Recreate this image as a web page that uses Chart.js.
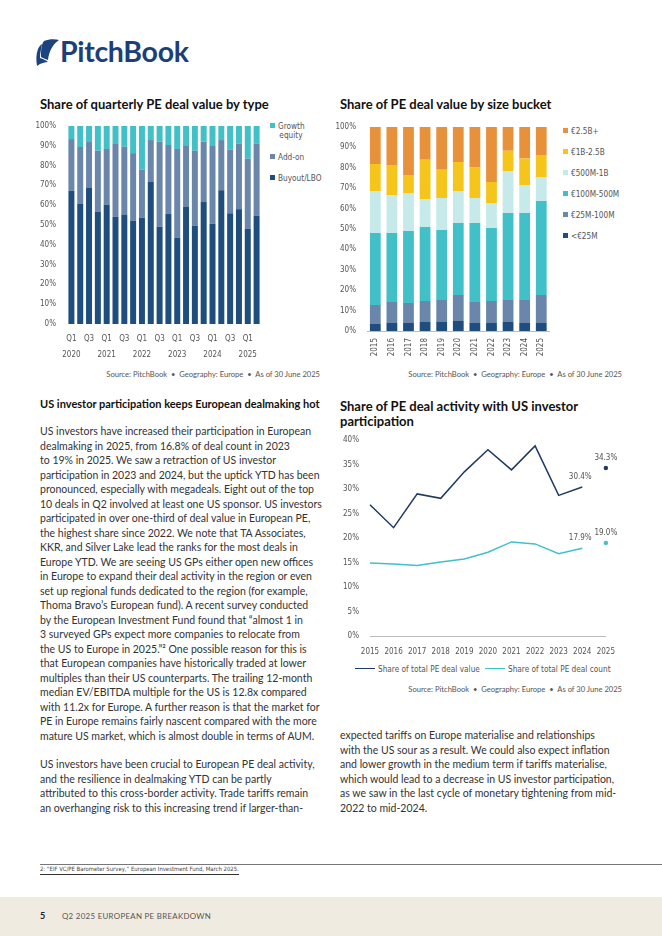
<!DOCTYPE html>
<html>
<head>
<meta charset="utf-8">
<script src="https://cdn.jsdelivr.net/npm/chart.js@4.4.1/dist/chart.umd.min.js"></script>
<style>
  body { margin: 0; width: 662px; height: 936px; position: relative; overflow: hidden; background: #fff; font-family: Lato, 'Open Sans', sans-serif; color: #333; }
  .abs { position: absolute; }
  .title { font-weight: 700; font-size: 13px; color: #111; white-space: nowrap; line-height: 14.5px; }
  .src { font-size: 7.6px; color: #555; white-space: nowrap; text-align: right; width: 260px; }
  .body { font-size: 10.5px; line-height: 14.5px; white-space: nowrap; color: #333; }
  .legend { font-family: 'Liberation Sans Narrow', 'DejaVu Sans Condensed', sans-serif; font-size: 8.2px; color: #555; }
  .legend div { position: absolute; white-space: nowrap; line-height: 9px; }
  .legend i { display: inline-block; width: 5px; height: 5px; margin-right: 3px; vertical-align: 1px; }
  canvas { position: absolute; }
</style>
</head>
<body>

<!-- logo -->
<svg class="abs" style="left:35px;top:39px" width="26" height="28" viewBox="0 0 26 28">
  <path d="M9 2 C 14 0, 20 0, 24 1 C 18 5, 14 12, 13 21 C 10 20, 8 19, 6 18 C 6 12, 6 6, 9 2 Z" fill="#1d4280"/>
  <path d="M3 10 C 4 8, 5 6, 7 5 C 6 10, 5 15, 5 19 C 8 20, 11 21, 13 23 C 10 23, 6 24, 2 27 C 1 21, 1 15, 3 10 Z" fill="#1d4280"/>
</svg>
<div class="abs" style="left:60px;top:34px;font-size:28.5px;font-weight:700;color:#1d3f78;letter-spacing:-0.3px">PitchBook</div>

<!-- chart 1 -->
<div class="abs title" style="left:40px;top:97px">Share of quarterly PE deal value by type</div>
<canvas id="typeChart" style="left:36px;top:116px" width="230" height="250"></canvas>
<div id="typeLegend" class="abs legend" style="left:270px;top:122px"></div>
<div class="abs src" style="left:60px;top:369px">Source: PitchBook &nbsp;•&nbsp; Geography: Europe &nbsp;•&nbsp; As of 30 June 2025</div>

<!-- chart 2 -->
<div class="abs title" style="left:340px;top:97px">Share of PE deal value by size bucket</div>
<canvas id="sizeChart" style="left:336px;top:116px" width="222" height="248"></canvas>
<div id="sizeLegend" class="abs legend" style="left:563px;top:127px"></div>
<div class="abs src" style="left:362px;top:369px">Source: PitchBook &nbsp;•&nbsp; Geography: Europe &nbsp;•&nbsp; As of 30 June 2025</div>

<!-- chart 3 -->
<div class="abs title" style="left:340px;top:399px">Share of PE deal activity with US investor<br>participation</div>
<canvas id="usChart" style="left:336px;top:432px" width="290" height="228"></canvas>
<div id="usLegend" class="abs legend" style="left:355px;top:665px"></div>
<div class="abs src" style="left:362px;top:684px">Source: PitchBook &nbsp;•&nbsp; Geography: Europe &nbsp;•&nbsp; As of 30 June 2025</div>

<!-- text -->
<div class="abs body" style="left:40px;top:397px;font-weight:700;color:#111;font-size:11px">US investor participation keeps European dealmaking hot</div>
<div class="abs body" style="left:40px;top:424px">
US investors have increased their participation in European<br>
dealmaking in 2025, from 16.8% of deal count in 2023<br>
to 19% in 2025. We saw a retraction of US investor<br>
participation in 2023 and 2024, but the uptick YTD has been<br>
pronounced, especially with megadeals. Eight out of the top<br>
10 deals in Q2 involved at least one US sponsor. US investors<br>
participated in over one-third of deal value in European PE,<br>
the highest share since 2022. We note that TA Associates,<br>
KKR, and Silver Lake lead the ranks for the most deals in<br>
Europe YTD. We are seeing US GPs either open new offices<br>
in Europe to expand their deal activity in the region or even<br>
set up regional funds dedicated to the region (for example,<br>
Thoma Bravo’s European fund). A recent survey conducted<br>
by the European Investment Fund found that “almost 1 in<br>
3 surveyed GPs expect more companies to relocate from<br>
the US to Europe in 2025.”² One possible reason for this is<br>
that European companies have historically traded at lower<br>
multiples than their US counterparts. The trailing 12-month<br>
median EV/EBITDA multiple for the US is 12.8x compared<br>
with 11.2x for Europe. A further reason is that the market for<br>
PE in Europe remains fairly nascent compared with the more<br>
mature US market, which is almost double in terms of AUM.
</div>
<div class="abs body" style="left:40px;top:757px">
US investors have been crucial to European PE deal activity,<br>
and the resilience in dealmaking YTD can be partly<br>
attributed to this cross-border activity. Trade tariffs remain<br>
an overhanging risk to this increasing trend if larger-than-
</div>
<div class="abs body" style="left:340px;top:728px">
expected tariffs on Europe materialise and relationships<br>
with the US sour as a result. We could also expect inflation<br>
and lower growth in the medium term if tariffs materialise,<br>
which would lead to a decrease in US investor participation,<br>
as we saw in the last cycle of monetary tightening from mid-<br>
2022 to mid-2024.
</div>

<!-- footnote + footer -->
<div class="abs" style="left:40px;top:864px;width:622px;height:1px;background:#777"></div>
<div class="abs" style="left:40px;top:866px;font-family:'Liberation Sans Narrow','DejaVu Sans Condensed',sans-serif;font-size:5.9px;color:#444;white-space:nowrap;border-bottom:1px solid #333;padding-bottom:2px">2: “EIF VC/PE Barometer Survey,” European Investment Fund, March 2025.</div>
<div class="abs" style="left:0;top:897px;width:662px;height:39px;background:#f0ebe1"></div>
<div class="abs" style="left:40px;top:910px;font-size:9px;font-weight:700;color:#222">5</div>
<div class="abs" style="left:62px;top:911px;font-size:7.9px;color:#555;letter-spacing:0.3px">Q2 2025 EUROPEAN PE BREAKDOWN</div>

<script>
// ---- data: quarterly deal value by type (2020 Q1 - 2025 Q2) ----
const quarterLabels = ['Q1','Q2','Q3','Q4','Q1','Q2','Q3','Q4','Q1','Q2','Q3','Q4',
                       'Q1','Q2','Q3','Q4','Q1','Q2','Q3','Q4','Q1','Q2'];
const quarterYears = ['2020','2020','2020','2020','2021','2021','2021','2021','2022','2022','2022','2022',
                      '2023','2023','2023','2023','2024','2024','2024','2024','2025','2025'];
const buyoutShare = [67.2,60.6,68.9,56.6,60.3,54.1,55.3,52.1,53.6,71.7,49.1,55.6,43.5,59.1,49.6,61.6,50.6,67.5,55.9,58.0,48.0,54.6];
const addonShare  = [26.2,28.8,23.0,30.9,28.1,36.8,34.2,34.2,24.3,21.2,43.0,34.8,44.9,30.8,37.9,30.5,39.3,25.4,32.1,33.2,35.5,36.6];
const growthShare = [6.6,10.6,8.1,12.5,11.6,9.1,10.5,13.7,22.1,7.1,7.9,9.6,11.6,10.1,12.5,7.9,10.1,7.1,12.0,8.8,16.5,8.8];

// ---- data: deal value by size bucket ----
const sizeYears = ['2015','2016','2017','2018','2019','2020','2021','2022','2023','2024','2025'];
const under25M   = [3.4,3.9,3.9,4.4,4.4,4.9,3.9,3.9,4.6,3.9,3.9];
const m25to100   = [9.3,10.3,9.8,10.3,10.8,12.7,10.3,10.8,10.6,11.3,13.7];
const m100to500  = [35.3,33.8,35.3,36.3,34.3,35.3,38.7,35.8,42.6,42.6,46.1];
const m500to1B   = [20.6,18.7,18.6,13.7,15.7,15.7,12.3,12.2,20.6,13.8,11.5];
const b1to2_5    = [13.3,14.7,8.9,19.3,13.9,14.2,14.9,10.3,10.0,12.9,11.1];
const over2_5B   = [18.1,18.6,23.5,16.0,20.9,17.2,19.9,27.0,11.6,15.5,13.7];

// ---- data: US investor participation ----
const usYears = ['2015','2016','2017','2018','2019','2020','2021','2022','2023','2024','2025'];
const usValueShare = [26.8,22.1,29.0,28.1,33.5,38.0,33.9,38.8,28.7,30.4,34.3];
const usCountShare = [14.9,14.7,14.4,15.1,15.7,17.1,19.2,18.8,16.8,17.9,19.0];
const labelledYears = ['2024','2025'];

const NAVY = '#1f4e7e', SLATE = '#6a87ab', TEAL = '#41c0c8', LTEAL = '#c6e9ea', YELLOW = '#f6c51b', ORANGE = '#e8913b';
const LINE_NAVY = '#1f3b62';
const narrow = "'Liberation Sans Narrow', 'DejaVu Sans Condensed', sans-serif";
const tickFont = { family: narrow, size: 8 };
const tickColor = '#555';
const pct = v => v + '%';

Chart.defaults.animation = false;
Chart.defaults.font.family = narrow;

// Chart 1: deal value by type
const typeSets = [
  { label: 'Buyout/LBO', data: buyoutShare, backgroundColor: NAVY },
  { label: 'Add-on', data: addonShare, backgroundColor: SLATE },
  { label: 'Growth equity', data: growthShare, backgroundColor: TEAL }
];
new Chart(document.getElementById('typeChart'), {
  type: 'bar',
  data: {
    labels: quarterLabels.map((q, i) => q + ' ' + quarterYears[i]),
    datasets: typeSets.map(d => ({ ...d, barPercentage: 0.68, categoryPercentage: 1 }))
  },
  options: {
    responsive: false,
    layout: { padding: { top: 10, right: 5 } },
    plugins: { legend: { display: false }, tooltip: { enabled: false } },
    scales: {
      x: {
        stacked: true,
        grid: { display: false, drawTicks: false }, border: { display: false },
        afterFit: s => { s.height = 42; },
        ticks: {
          autoSkip: false, maxRotation: 0, color: tickColor, padding: 7,
          font: { family: narrow, size: 8, lineHeight: 2 },
          callback: (v, i) => i % 2 ? '' : [quarterLabels[i], quarterLabels[i] === 'Q1' ? quarterYears[i] : '']
        }
      },
      y: {
        stacked: true, min: 0, max: 100,
        grid: { display: false }, border: { display: false },
        afterFit: s => { s.width = 31; },
        ticks: { stepSize: 10, color: tickColor, font: tickFont, callback: pct }
      }
    }
  }
});

// legend built from the same series (top item first)
const typeLegend = document.getElementById('typeLegend');
[{ label: 'Growth equity', c: TEAL, top: 0, html: 'Growth<br>&nbsp;&nbsp;&nbsp;&nbsp;equity' },
 { label: 'Add-on', c: SLATE, top: 31 },
 { label: 'Buyout/LBO', c: NAVY, top: 52 }].forEach(it => {
  const d = document.createElement('div');
  d.style.top = it.top + 'px';
  d.innerHTML = '<i style="background:' + it.c + '"></i>' + (it.html || it.label);
  typeLegend.appendChild(d);
});

// Chart 2: deal value by size bucket
const sizeSets = [
  { label: '<€25M', data: under25M, backgroundColor: NAVY },
  { label: '€25M-100M', data: m25to100, backgroundColor: SLATE },
  { label: '€100M-500M', data: m100to500, backgroundColor: TEAL },
  { label: '€500M-1B', data: m500to1B, backgroundColor: LTEAL },
  { label: '€1B-2.5B', data: b1to2_5, backgroundColor: YELLOW },
  { label: '€2.5B+', data: over2_5B, backgroundColor: ORANGE }
];
new Chart(document.getElementById('sizeChart'), {
  type: 'bar',
  data: {
    labels: sizeYears,
    datasets: sizeSets.map(d => ({ ...d, barPercentage: 0.65, categoryPercentage: 1 }))
  },
  options: {
    responsive: false,
    layout: { padding: { top: 11, right: 3 } },
    plugins: { legend: { display: false }, tooltip: { enabled: false } },
    scales: {
      x: {
        stacked: true,
        grid: { display: false, drawTicks: false }, border: { color: '#bbb' },
        afterFit: s => { s.height = 33; },
        ticks: { minRotation: 90, maxRotation: 90, color: tickColor, font: tickFont, padding: 7 }
      },
      y: {
        stacked: true, min: 0, max: 100,
        grid: { display: false }, border: { display: false },
        afterFit: s => { s.width = 31; },
        ticks: { stepSize: 10, color: tickColor, font: tickFont, callback: pct }
      }
    }
  }
});
const sizeLegend = document.getElementById('sizeLegend');
sizeSets.slice().reverse().forEach((d, i) => {
  const el = document.createElement('div');
  el.style.top = (i * 21) + 'px';
  el.innerHTML = '<i style="background:' + d.backgroundColor + '"></i>' + d.label;
  sizeLegend.appendChild(el);
});

// Chart 3: US investor participation
const lastIdx = usYears.length - 1;
const pointLabels = {
  id: 'pointLabels',
  afterDatasetsDraw(chart) {
    const ctx = chart.ctx;
    ctx.save();
    ctx.font = '8px ' + narrow;
    ctx.fillStyle = '#555';
    ctx.textAlign = 'center';
    ctx.textBaseline = 'middle';
    chart.data.datasets.forEach((ds, i) => {
      const meta = chart.getDatasetMeta(i);
      labelledYears.forEach(y => {
        const j = usYears.indexOf(y);
        const p = meta.data[j];
        ctx.fillText(ds.data[j].toFixed(1) + '%', p.x - (j === lastIdx ? 0 : 2), p.y - 10);
      });
    });
    ctx.restore();
  }
};
const usSets = [
  { label: 'Share of total PE deal value', data: usValueShare, color: LINE_NAVY },
  { label: 'Share of total PE deal count', data: usCountShare, color: TEAL }
];
new Chart(document.getElementById('usChart'), {
  type: 'line',
  data: {
    labels: usYears,
    datasets: usSets.map(d => ({
      label: d.label, data: d.data,
      borderColor: d.color, backgroundColor: d.color, borderWidth: 1.5, tension: 0,
      pointRadius: c => c.dataIndex === lastIdx ? 2.2 : 0,
      pointBorderWidth: 0,
      segment: { borderColor: c => c.p1DataIndex === lastIdx ? 'rgba(0,0,0,0)' : d.color }
    }))
  },
  options: {
    responsive: false,
    layout: { padding: { top: 8, right: 16 } },
    plugins: { legend: { display: false }, tooltip: { enabled: false } },
    scales: {
      x: {
        offset: false,
        grid: { display: false, drawTicks: false }, border: { color: '#bbb' },
        afterFit: s => { s.height = 24; },
        ticks: { color: tickColor, font: tickFont, maxRotation: 0, autoSkip: false, padding: 11 }
      },
      y: {
        min: 0, max: 40,
        grid: { display: false }, border: { display: false },
        afterFit: s => { s.width = 34; },
        ticks: { stepSize: 5, color: tickColor, font: tickFont, callback: pct }
      }
    }
  },
  plugins: [pointLabels]
});
const usLegend = document.getElementById('usLegend');
usSets.forEach((d, i) => {
  const el = document.createElement('div');
  el.style.left = (i * 130) + 'px';
  el.innerHTML = '<span style="display:inline-block;width:20px;height:1.5px;background:' + d.color + ';vertical-align:3px;margin-right:3px"></span>' + d.label;
  usLegend.appendChild(el);
});
</script>
</body>
</html>
